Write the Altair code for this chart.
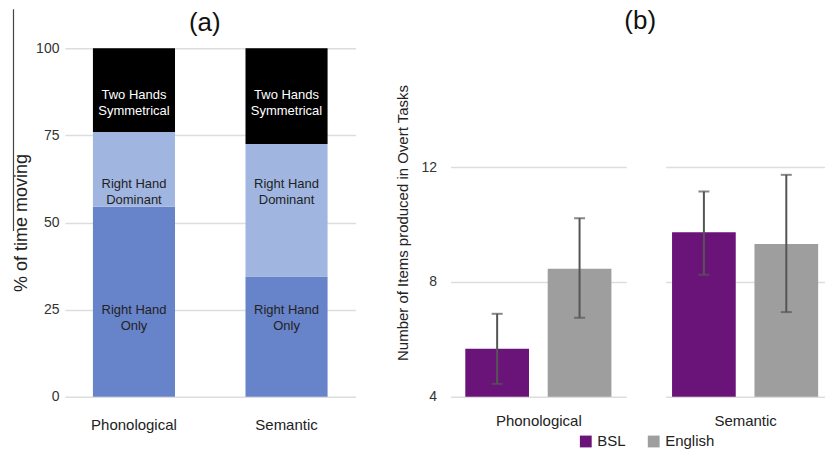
import altair as alt
import pandas as pd

FONT = "Liberation Sans"

# ---------- panel (a) data ----------
tasks = ["Phonological", "Semantic"]
hand_cats = ["Right Hand Only", "Right Hand Dominant", "Two Hands Symmetrical"]
hand_labels = ["Right Hand\nOnly", "Right Hand\nDominant", "Two Hands\nSymmetrical"]
phon_pct = [54.5, 21.5, 24.0]
sem_pct = [34.5, 38.0, 27.5]
label_pos = [25.0, 61.0, 86.5]
hand_colors = ["#6783c9", "#a0b6e1", "#000000"]
text_colors = ["#222222", "#222222", "#ffffff"]

# ---------- panel (b) data ----------
groups = ["BSL", "English"]
group_colors = ["#6a1479", "#9e9e9e"]
phon_mean = [5.67, 8.46]
phon_lo = [4.45, 6.75]
phon_hi = [6.89, 10.22]
sem_mean = [9.73, 9.32]
sem_lo = [8.25, 6.95]
sem_hi = [11.15, 11.73]

rows = []
for t, vals in zip(tasks, [phon_pct, sem_pct]):
    for i, (c, v) in enumerate(zip(hand_cats, vals)):
        rows.append({"task": t, "hand": c, "pct": v, "ord": i,
                     "lab": hand_labels[i], "laby": label_pos[i], "tcol": text_colors[i]})
dfa = pd.DataFrame(rows)

base_a = alt.Chart(dfa).encode(
    x=alt.X("task:N", sort=tasks,
            scale=alt.Scale(paddingInner=0.462, paddingOuter=0.1835),
            axis=alt.Axis(title=None, labelAngle=0, ticks=False, domain=False,
                          labelFontSize=15, labelColor="#222", labelPadding=21,
                          labelFont=FONT))
)
bars_a = base_a.mark_bar().encode(
    y=alt.Y("pct:Q", stack="zero",
            scale=alt.Scale(domain=[0, 100], nice=False),
            axis=alt.Axis(values=[0, 25, 50, 75, 100], title="% of time moving",
                          ticks=False, domain=False, gridColor="#dddddd", gridWidth=1.5,
                          labelFontSize=14, labelColor="#333", labelPadding=6,
                          labelFont=FONT, titleFont=FONT, titleFontSize=18,
                          titleFontWeight="normal", titleColor="#222", titlePadding=5)),
    color=alt.Color("hand:N", scale=alt.Scale(domain=hand_cats, range=hand_colors), legend=None),
    order=alt.Order("ord:Q"),
)
text_a = base_a.mark_text(font=FONT, fontSize=13, lineBreak="\n", lineHeight=16,
                          baseline="middle").encode(
    y=alt.Y("laby:Q"),
    text="lab:N",
    color=alt.Color("tcol:N", scale=None),
)
one_a = alt.Chart(dfa).transform_filter("datum.ord == 0 && datum.task == 'Phonological'")
line_a = one_a.mark_rule(color="#444", strokeWidth=1.2, clip=False).encode(
    x=alt.value(-51.5), y=alt.value(-39), y2=alt.value(183)
)
title_a = one_a.mark_text(text="(a)", font=FONT, fontSize=26, color="#111",
                          baseline="middle", align="center").encode(
    x=alt.value(140), y=alt.value(-25)
)

panel_a = alt.layer(bars_a, text_a, line_a, title_a).properties(width=291, height=349)

# ---------- panel (b) ----------
def make_b(task, mean, lo, hi, show_y, width, pad_outer):
    df = pd.DataFrame({"group": groups, "mean": mean, "lo": lo, "hi": hi})
    yscale = alt.Scale(domain=[4, 4 + 349 / 28.75], nice=False, zero=False)
    if show_y:
        yaxis = alt.Axis(values=[4, 8, 12], title="Number of Items produced in Overt Tasks",
                         ticks=False, domain=False, gridColor="#dddddd", gridWidth=1.5,
                         labelFontSize=14, labelColor="#333", labelPadding=14,
                         labelFont=FONT, titleFont=FONT, titleFontSize=15,
                         titleFontWeight="normal", titleColor="#222", titlePadding=10)
    else:
        yaxis = alt.Axis(values=[4, 8, 12], title=None, labels=False,
                         ticks=False, domain=False, gridColor="#dddddd", gridWidth=1.5)
    xenc = alt.X("group:N", sort=groups,
                 scale=alt.Scale(paddingInner=0.227, paddingOuter=pad_outer),
                 axis=alt.Axis(title=task, labels=False, ticks=False, domain=False,
                               titleFont=FONT, titleFontSize=15, titleFontWeight="normal",
                               titleColor="#222", titlePadding=17))
    base = alt.Chart(df).encode(x=xenc)
    bars = base.mark_bar().encode(
        y=alt.Y("mean:Q", scale=yscale, axis=yaxis),
        y2=alt.datum(4),
        color=alt.Color("group:N", scale=alt.Scale(domain=groups, range=group_colors),
                        legend=alt.Legend(title=None, orient="none", direction="horizontal",
                                          legendX=128, legendY=386, padding=0,
                                          symbolType="square", symbolSize=140,
                                          symbolStrokeWidth=0,
                                          labelFontSize=15, labelFont=FONT,
                                          labelColor="#222", columnPadding=20)),
    )
    rule = base.mark_rule(color="#555", strokeWidth=2).encode(y="lo:Q", y2="hi:Q")
    cap_lo = base.mark_tick(color="#555", thickness=2, size=11).encode(y="lo:Q")
    cap_hi = base.mark_tick(color="#555", thickness=2, size=11).encode(y="hi:Q")
    return alt.layer(bars, rule, cap_lo, cap_hi).properties(width=width, height=349)

panel_b = alt.hconcat(
    make_b("Phonological", phon_mean, phon_lo, phon_hi, True, 176, 0.18),
    make_b("Semantic", sem_mean, sem_lo, sem_hi, False, 159, 0.0771),
    spacing=39.5,
).properties(
    title=alt.TitleParams("(b)", fontSize=26, font=FONT, fontWeight="normal",
                          color="#111", anchor="middle", offset=14, dx=30),
)

chart = alt.hconcat(panel_a, panel_b, spacing=40).resolve_scale(
    color="independent", x="independent", y="independent"
).properties(padding={"left": 4, "top": 0, "right": 0, "bottom": 0}).configure_view(stroke=None)

chart.save("out.html", embed_options={"renderer": "svg", "actions": False})
